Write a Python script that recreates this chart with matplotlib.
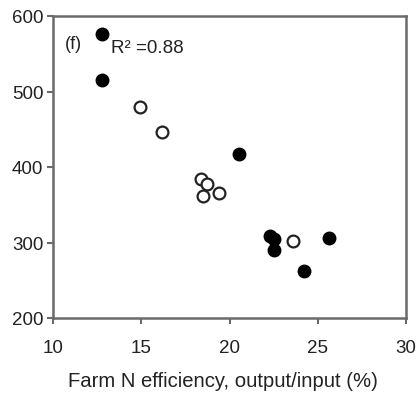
import matplotlib
matplotlib.use('Agg')
import matplotlib.pyplot as plt

# data
filled_x = [12.8, 12.8, 20.55, 22.3, 22.5, 22.5, 24.2, 25.65]
filled_y = [576, 515, 417, 308, 304, 290, 262, 306]
open_x = [14.95, 16.2, 18.4, 18.75, 18.5, 19.4, 23.6]
open_y = [480, 447, 384, 377, 362, 366, 302]
x_ticks = [10, 15, 20, 25, 30]
y_ticks = [200, 300, 400, 500, 600]

plt.rcParams['font.family'] = 'Liberation Sans'
plt.rcParams['font.size'] = 13

fig = plt.figure(figsize=(4.19, 4.06), dpi=100)
ax = fig.add_axes([53/419, 1 - 319/406, 353/419, 302/406])

ax.plot(open_x, open_y, 'o', ms=8.5, mfc='white', mec='#222222', mew=1.6, ls='none')
ax.plot(filled_x, filled_y, 'o', ms=9, mfc='black', mec='black', ls='none')

ax.set_xlim(10, 30)
ax.set_ylim(200, 600)
ax.set_xticks(x_ticks)
ax.set_yticks(y_ticks)
for s in ax.spines.values():
    s.set_color('#6a6a6a')
    s.set_linewidth(1.8)
ax.tick_params(direction='out', length=4, width=1.5, color='#6a6a6a',
               labelsize=13.5, labelcolor='#222222', pad=3)
ax.tick_params(axis='x', pad=11)

ax.text(0.035, 0.895, '(f)', transform=ax.transAxes, fontsize=13, color='#222222')
ax.text(0.165, 0.88, 'R² =0.88', transform=ax.transAxes, fontsize=13.5, color='#222222')
ax.set_xlabel('Farm N efficiency, output/input (%)', fontsize=14.6, color='#222222',
              labelpad=11, x=0.482)

fig.savefig('out.png', dpi=100)
